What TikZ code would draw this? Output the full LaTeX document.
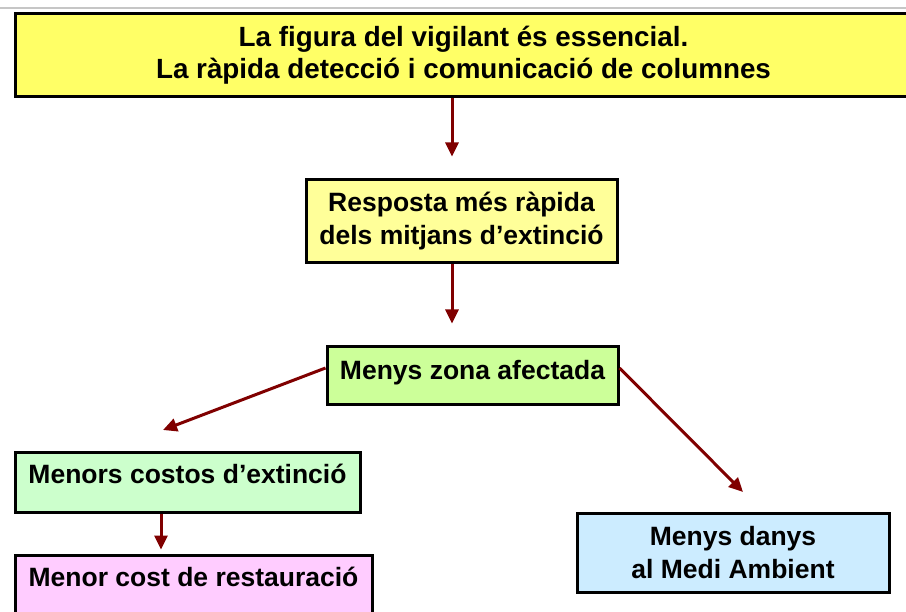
\documentclass[tikz,border=0pt]{standalone}
\usepackage{fontspec}
\setmainfont{Liberation Sans}
\usetikzlibrary{arrows.meta}

\definecolor{topyellow}{HTML}{FFFF66}
\definecolor{paleyellow}{HTML}{FFFF99}
\definecolor{limegreen}{HTML}{CCFF99}
\definecolor{mintgreen}{HTML}{CCFFCC}
\definecolor{palepink}{HTML}{FFCCFF}
\definecolor{paleblue}{HTML}{CCECFF}
\definecolor{darkred}{HTML}{800000}

\tikzset{
    box/.style={draw=black, line width=3pt, rectangle, align=center, inner sep=0pt,
        font=\fontsize{26.5}{33}\selectfont\bfseries},
    upper/.style={text height=19pt, text depth=#1},
    link/.style={draw=darkred, line width=3pt, -{Triangle[length=14pt,width=13pt]}}
}

\begin{document}
\begin{tikzpicture}[x=1pt,y=-1pt]
        \useasboundingbox (0,0) rectangle (906,612);
        \clip (0,0) rectangle (906,612);
        \draw[gray!45, line width=2.5pt] (0,8) -- (906,8);
        % boxes
        \node[box, fill=topyellow, minimum width=897pt, minimum height=83pt,
            font=\fontsize{27.8}{32}\selectfont\bfseries] (vigilant) at (463.5,55.5)
            {La figura del vigilant és essencial.\\La ràpida detecció i comunicació de columnes};
        \node[box, fill=paleyellow, minimum width=311pt, minimum height=83pt] (resposta) at (461.5,221.5)
            {Resposta més ràpida\\dels mitjans d’extinció};
        \node[box, fill=limegreen, minimum width=291pt, minimum height=58pt, upper=12pt] (zona) at (472.5,376)
            {Menys zona afectada};
        \node[box, fill=mintgreen, minimum width=345pt, minimum height=60pt, upper=18pt] (costos) at (187.5,483)
            {Menors costos d’extinció};
        \node[box, fill=palepink, minimum width=357pt, minimum height=70pt, upper=27pt] (restauracio) at (193.5,590)
            {Menor cost de restauració};
        \node[box, fill=paleblue, minimum width=312pt, minimum height=78pt] (danys) at (733,553)
            {Menys danys\\al Medi Ambient};
        % free ends of the slanted arrows
        \coordinate (tipL) at (163,430);
        \coordinate (tipR) at (743,492);
        % arrows
        \draw[link, shorten >=22pt] ([xshift=-9.5pt]resposta.north |- vigilant.south) -- ([xshift=-9.5pt]resposta.north);
        \draw[link, shorten >=22pt] ([xshift=-9.5pt]resposta.south) -- ([xshift=-9.5pt]resposta.south |- zona.north);
        \draw[link] ([yshift=8pt]zona.west) -- (tipL);
        \draw[link] ([yshift=8pt]zona.east) -- (tipR);
        \draw[link, shorten >=4pt] ([xshift=-26.5pt]costos.south) -- ([xshift=-26.5pt]costos.south |- restauracio.north);
    \end{tikzpicture}
\end{document}
